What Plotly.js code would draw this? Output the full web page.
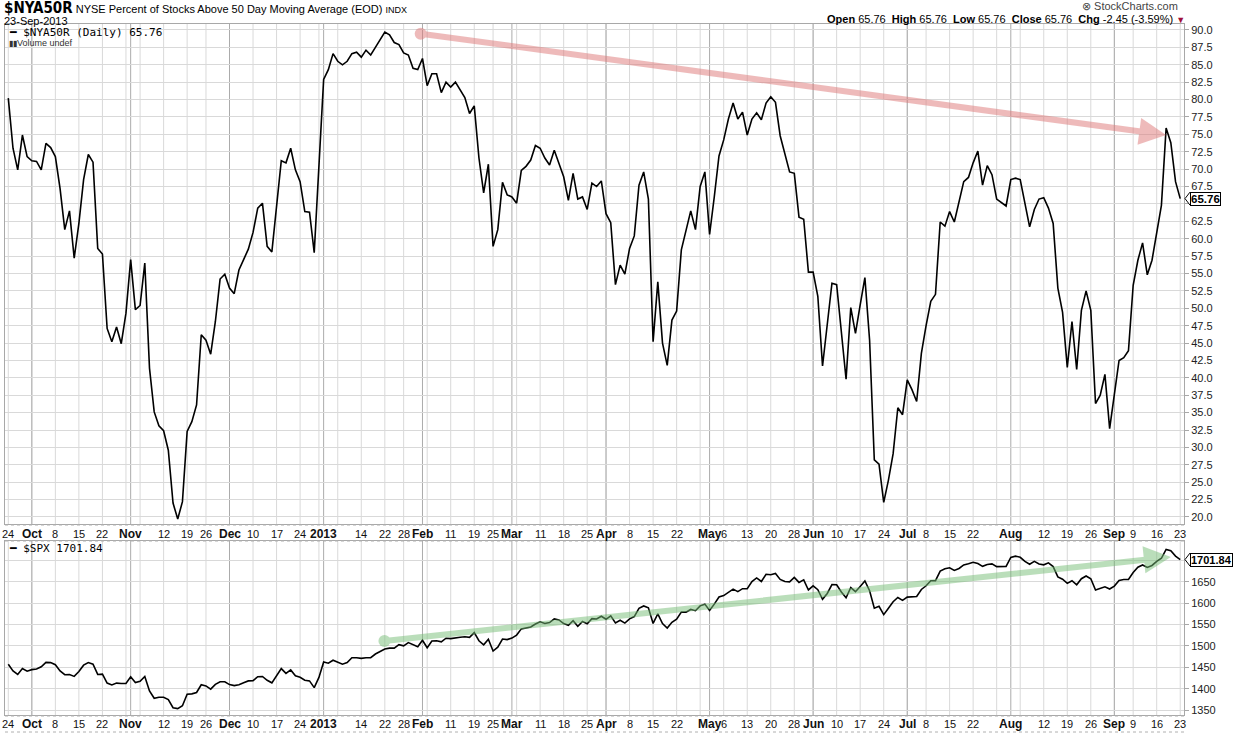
<!DOCTYPE html>
<html>
<head>
<meta charset="utf-8">
<script src="https://cdn.plot.ly/plotly-3.0.1.min.js"></script>
<style>
html,body{margin:0;padding:0;background:#fff;}
#chart{width:1233px;height:733px;}
</style>
</head>
<body>
<div id="chart"></div>
<script>
// ---------------- DATA ----------------
const startDate = '2012-09-24';
const endDate = '2013-09-23';
const holidays = ['2012-10-29','2012-10-30','2012-11-22','2012-12-25','2013-01-01','2013-01-21',
  '2013-02-18','2013-03-29','2013-05-27','2013-07-04','2013-09-02'];

const nya50r = [
 80.2,73.0,69.9,74.9,71.8, 71.2,71.1,69.9,73.7,73.1, 71.8,67.2,61.3,64.0,57.2, 62.2,68.5,72.1,71.0,58.6,
 57.8,47.1,45.2,47.3,44.9, 49.3,57.0,49.8,50.4,56.5, 41.4,35.1,33.1,32.4,29.6, 22.0,19.7,22.2,32.3,33.7,
 36.1,46.2,45.4,43.4,48.1, 54.2,54.9,52.9,52.1,55.5, 57.0,58.5,60.9,64.4,65.1, 58.9,58.1,64.6,71.2,70.9,
 73.0,69.9,68.2,63.9,63.8, 58.0,70.5,82.9,84.3,86.6, 85.5,85.0,85.5,86.6,86.8, 86.1,87.1,86.4,87.5,88.6,
 89.7,89.3,88.2,87.9,86.7, 86.4,84.5,84.3,85.9,82.0, 83.7,83.7,81.0,82.5,81.8, 82.5,81.3,80.3,78.0,79.1,
 71.6,66.6,70.7,58.9,61.3, 68.1,66.3,66.0,65.1,69.8, 70.4,71.3,73.4,73.0,71.6, 70.6,72.7,70.9,68.9,65.5,
 69.4,65.7,66.0,64.2,68.0, 67.5,68.3,63.6,62.3,53.4, 56.2,54.9,58.6,60.4,67.7, 69.6,65.7,45.2,53.8,45.0,
 41.8,48.3,49.6,58.4,61.3, 64.0,61.3,67.5,69.6,60.6, 66.0,71.9,74.2,77.2,79.5, 77.2,78.2,74.9,77.2,78.1,
 77.1,79.5,80.4,79.6,74.8, 72.0,69.6,69.4,63.1,62.8, 55.2,55.2,51.7,41.7,48.1, 53.6,53.4,46.9,39.8,50.1,
 46.4,50.5,54.4,45.4,28.2, 27.6,22.1,25.3,29.1,35.7, 34.7,39.7,38.3,36.6,43.5, 47.5,51.0,52.0,62.4,61.8,
 63.9,62.4,65.3,68.2,68.8, 70.9,72.6,67.7,70.5,69.2, 65.7,65.2,64.7,68.5,68.7, 68.5,65.2,61.7,64.2,65.7,
 65.9,64.4,62.2,52.9,49.4, 41.5,48.1,41.2,49.7,52.5, 49.7,36.3,37.5,40.5,32.7, 37.7,42.5,42.9,43.9,53.3,
 56.9,59.4,54.8,56.9,60.9, 64.8,75.9,73.8,68.2,65.76
];

const spx = [
 1456.9,1441.6,1433.3,1447.2,1440.7, 1444.5,1445.8,1451.0,1461.4,1460.9, 1455.9,1441.5,1432.6,1432.8,1428.6,
 1440.1,1454.9,1460.9,1457.3,1433.2, 1433.8,1413.1,1408.8,1413.0,1411.9, 1412.2,1427.6,1414.2,1417.3,1428.4,
 1394.5,1377.5,1379.9,1380.0,1374.5, 1355.5,1353.3,1359.9,1386.9,1387.8, 1391.0,1409.2,1406.3,1398.9,1409.9,
 1416.0,1416.2,1409.5,1407.1,1409.3, 1413.9,1418.1,1418.6,1427.8,1428.5, 1419.5,1413.6,1430.4,1446.8,1435.8,
 1443.7,1430.2,1426.7,1419.8,1418.1, 1402.4,1426.2,1462.4,1459.4,1466.5, 1461.9,1457.2,1461.0,1472.1,1472.1,
 1470.7,1472.3,1472.6,1480.9,1486.0, 1492.6,1494.8,1494.8,1503.0,1500.2, 1507.8,1502.0,1498.1,1513.2,1495.7,
 1511.3,1512.1,1509.4,1517.9,1517.0, 1519.4,1520.3,1521.4,1519.8,1530.9, 1512.0,1502.4,1515.6,1487.9,1496.9,
 1516.0,1514.7,1518.2,1525.2,1539.8, 1541.5,1544.3,1551.2,1556.2,1552.5, 1554.5,1563.2,1560.7,1552.1,1548.3,
 1558.7,1545.8,1556.9,1551.7,1563.8, 1562.9,1569.2,1562.2,1570.3,1553.7, 1560.0,1553.3,1563.1,1568.6,1587.7,
 1593.4,1588.9,1552.4,1574.6,1552.0, 1541.6,1555.3,1562.5,1578.8,1578.8, 1585.2,1582.2,1593.6,1597.6,1582.7,
 1597.6,1614.4,1617.5,1626.0,1632.7, 1626.7,1633.7,1633.8,1650.3,1658.8, 1650.5,1667.5,1666.3,1669.2,1655.4,
 1650.5,1649.6,1660.1,1648.4,1654.4, 1630.7,1640.4,1631.4,1608.9,1622.6, 1643.4,1642.8,1626.1,1612.5,1636.4,
 1626.7,1639.0,1651.8,1628.9,1588.2, 1592.4,1573.1,1588.0,1603.3,1613.2, 1606.3,1614.1,1614.1,1615.4,1631.9,
 1640.5,1652.3,1652.6,1675.0,1680.2, 1682.5,1676.3,1680.9,1689.4,1692.1, 1695.5,1692.4,1685.9,1690.3,1691.7,
 1685.3,1686.0,1685.7,1706.9,1709.7, 1707.1,1697.4,1690.9,1697.5,1691.4, 1689.5,1694.2,1685.4,1661.3,1655.8,
 1646.1,1652.4,1642.8,1657.0,1663.5, 1656.8,1630.5,1635.0,1638.2,1633.0, 1639.8,1653.1,1655.1,1655.2,1671.7,
 1684.0,1689.1,1683.4,1688.0,1697.6, 1704.8,1725.5,1722.3,1710.0,1701.84
];

// date axis tick labels
const tickDates = ['2012-09-24','2012-10-01','2012-10-08','2012-10-15','2012-10-22','2012-11-01','2012-11-12','2012-11-19','2012-11-26',
 '2012-12-03','2012-12-10','2012-12-17','2012-12-24','2013-01-02','2013-01-14','2013-01-22','2013-01-28','2013-02-01','2013-02-11',
 '2013-02-19','2013-02-25','2013-03-01','2013-03-11','2013-03-18','2013-03-25','2013-04-01','2013-04-08','2013-04-15','2013-04-22',
 '2013-05-01','2013-05-06','2013-05-13','2013-05-20','2013-05-28','2013-06-03','2013-06-10','2013-06-17','2013-06-24','2013-07-01',
 '2013-07-08','2013-07-15','2013-07-22','2013-08-01','2013-08-12','2013-08-19','2013-08-26','2013-09-03','2013-09-09','2013-09-16','2013-09-23'];
const tickText = ['24','Oct','8','15','22','Nov','12','19','26','Dec','10','17','24','2013','14','22','28','Feb','11',
 '19','25','Mar','11','18','25','Apr','8','15','22','May','6','13','20','28','Jun','10','17','24','Jul',
 '8','15','22','Aug','12','19','26','Sep','9','16','23'];

// value-axis tick labels
const nyaTicks = [20,22.5,25,27.5,30,32.5,35,37.5,40,42.5,45,47.5,50,52.5,55,57.5,60,62.5,65,67.5,70,72.5,75,77.5,80,82.5,85,87.5,90];
const spxTicks = [1350,1400,1450,1500,1550,1600,1650,1700];

const nyaLast = 65.76, spxLast = 1701.84;

// ---------------- BUILD ----------------
function iso(d){return d.toISOString().slice(0,10);}
const dates = [];
for (let d = new Date(startDate+'T00:00:00Z'); iso(d) <= endDate; d.setUTCDate(d.getUTCDate()+1)) {
  const wd = d.getUTCDay();
  if (wd === 0 || wd === 6) continue;
  if (holidays.includes(iso(d))) continue;
  dates.push(iso(d));
}
const idx = dates.map((_, i) => i);
const idxOf = s => dates.indexOf(s);

// weekly grid (first trading day of each week) and month starts
const weekIdx = [], monthIdx = [];
dates.forEach((s, i) => {
  const d = new Date(s+'T00:00:00Z');
  if (i === 0) { weekIdx.push(i); return; }
  const p = new Date(dates[i-1]+'T00:00:00Z');
  if (d.getUTCDay() <= p.getUTCDay() || (d - p)/86400000 >= 7) weekIdx.push(i);
  if (d.getUTCMonth() !== p.getUTCMonth()) monthIdx.push(i);
});

const isMonth = t => /^[A-Za-z]+$/.test(t) || t === '2013';

// pixel helpers for text placement
const L = 5, R = 49, T = 24, B = 18, W = 1233, H = 733;
const pw = W - L - R, ph = H - T - B;
const px = x => (x - L) / pw;
const py = y => (H - B - y) / ph;

const xRange = [-0.7, 249.8];
const y1Range = [18.99, 90.86], y2Range = [1338.4, 1745.2];
const gridCol = '#d9d9d9';
const FONT = 'Liberation Sans, Arial, sans-serif';

// tick labels hidden under last-value boxes (as in the original)
const covered = (v, last, step) => Math.abs(v - last) < step * 0.45;
const nyaTT = nyaTicks.map(v => covered(v, nyaLast, 2.5) ? '' : v.toFixed(1));
const spxTT = spxTicks.map(v => covered(v, spxLast, 50) ? '' : String(v));

const shapes = [];
weekIdx.forEach(i => {
  shapes.push({type:'line', xref:'x', yref:'y domain', x0:i, x1:i, y0:0, y1:1, line:{color:gridCol, width:1}, layer:'below'});
  shapes.push({type:'line', xref:'x2', yref:'y2 domain', x0:i, x1:i, y0:0, y1:1, line:{color:gridCol, width:1}, layer:'below'});
});
monthIdx.forEach(i => {
  shapes.push({type:'line', xref:'x', yref:'y domain', x0:i, x1:i, y0:0, y1:1, line:{color:'#ababab', width:1}, layer:'below'});
  shapes.push({type:'line', xref:'x2', yref:'y2 domain', x0:i, x1:i, y0:0, y1:1, line:{color:'#ababab', width:1}, layer:'below'});
});
[525, 541, 716, 732].forEach(yy => {
  shapes.push({type:'line', xref:'paper', yref:'paper', x0:0, x1:1, y0:py(yy), y1:py(yy), line:{color:'#b0b0b0', width:1, dash:'dot'}});
});
// pointer triangles on the last-value boxes
function pointer(yref, last, range, hpx) {
  const unitsPerPx = (range[1] - range[0]) / hpx;
  const d = 6.5 * unitsPerPx;
  const xa = px(1185), xb = px(1190);
  shapes.push({type:'path', xref:'paper', yref:yref,
    path:`M ${xb} ${last + d} L ${xa} ${last} L ${xb} ${last - d}`,
    line:{color:'#000', width:1}, fillcolor:'#fff', layer:'above'});
}
pointer('y', nyaLast, y1Range, 500);
pointer('y2', spxLast, y2Range, 174);

const traces = [
  {x: idx, y: nya50r, type:'scatter', mode:'lines', line:{color:'#000', width:1.6}, xaxis:'x', yaxis:'y', hoverinfo:'skip'},
  {x: idx, y: spx, type:'scatter', mode:'lines', line:{color:'#000', width:1.6}, xaxis:'x2', yaxis:'y2', hoverinfo:'skip'}
];

const annotations = [
  {xref:'paper', yref:'paper', x:px(2), y:py(8), xanchor:'left', yanchor:'middle', showarrow:false,
   text:'<b><span style="font-family:\'DejaVu Sans Condensed\',\'Liberation Sans Narrow\',\'Liberation Sans\';font-size:15px">$NYA50R</span></b> NYSE Percent of Stocks Above 50 Day Moving Average (EOD) <span style="font-size:9px">INDX</span>',
   font:{family:FONT, size:11, color:'#000'}},
  {xref:'paper', yref:'paper', x:px(2), y:py(20.5), xanchor:'left', yanchor:'middle', showarrow:false,
   text:'23-Sep-2013', font:{family:FONT, size:11, color:'#000'}},
  {xref:'paper', yref:'paper', x:px(1180), y:py(6), xanchor:'right', yanchor:'middle', showarrow:false,
   text:'⊗ StockCharts.com', font:{family:FONT, size:11, color:'#444'}},
  {xref:'paper', yref:'paper', x:px(1187), y:py(19), xanchor:'right', yanchor:'middle', showarrow:false,
   text:'<b>Open</b> 65.76  <b>High</b> 65.76  <b>Low</b> 65.76  <b>Close</b> 65.76  <b>Chg</b> -2.45 (-3.59%) <span style="color:#a0103a;font-size:9px">▼</span>',
   font:{family:FONT, size:11, color:'#000'}},
  {xref:'paper', yref:'paper', x:px(7), y:py(33), xanchor:'left', yanchor:'middle', showarrow:false,
   text:'<b>━</b> $NYA50R (Daily) 65.76', font:{family:'DejaVu Sans Mono, monospace', size:11, color:'#000'}},
  {xref:'paper', yref:'paper', x:px(7), y:py(43.5), xanchor:'left', yanchor:'middle', showarrow:false,
   text:'<span style="font-size:8px">▮▮</span>Volume undef', font:{family:FONT, size:9, color:'#333'}},
  {xref:'paper', yref:'paper', x:px(7), y:py(548), xanchor:'left', yanchor:'middle', showarrow:false,
   text:'<b>━</b> $SPX 1701.84', font:{family:'DejaVu Sans Mono, monospace', size:11, color:'#000'}},
  // last value boxes
  {xref:'paper', yref:'y', x:px(1190), y:nyaLast, xanchor:'left', yanchor:'middle', showarrow:false,
   text:'<b>'+nyaLast.toFixed(2)+'</b>', bgcolor:'#fff', bordercolor:'#000', borderwidth:1, borderpad:0,
   font:{family:FONT, size:11.5, color:'#000'}},
  {xref:'paper', yref:'y2', x:px(1190), y:spxLast, xanchor:'left', yanchor:'middle', showarrow:false,
   text:'<b>'+spxLast.toFixed(2)+'</b>', bgcolor:'#fff', bordercolor:'#000', borderwidth:1, borderpad:0,
   font:{family:FONT, size:11, color:'#000'}},
  // trend arrows
  {xref:'x', yref:'y', axref:'x', ayref:'y', x:246, y:74.9, ax:87.3, ay:89.5, text:'', showarrow:true,
   arrowhead:2, arrowsize:0.9, arrowwidth:6, arrowcolor:'rgba(222,120,120,0.5)', arrowside:'end+start',
   startarrowhead:6, startarrowsize:0.5, standoff:0, startstandoff:0},
  {xref:'x2', yref:'y2', axref:'x2', ayref:'y2', x:247, y:1708, ax:79.6, ay:1511, text:'', showarrow:true,
   arrowhead:2, arrowsize:0.9, arrowwidth:6, arrowcolor:'rgba(120,190,120,0.5)', arrowside:'end+start',
   startarrowhead:6, startarrowsize:0.5, standoff:0, startstandoff:0}
];

// date labels for both strips
tickDates.forEach((s, k) => {
  const t = tickText[k];
  const m = isMonth(t);
  [['x', 534], ['x2', 724]].forEach(([xr, yy]) => {
    annotations.push({xref:xr, yref:'paper', x:idxOf(s), y:py(yy), xanchor:'center', yanchor:'middle', showarrow:false,
      text: m ? '<b>'+t+'</b>' : t,
      font:{family: FONT, size: m ? 12 : 11, color:'#111'}});
  });
});

const xCommon = {
  range: xRange, showticklabels:false, ticks:'', showgrid:false,
  showline:true, mirror:true, linecolor:'#a8a8a8', linewidth:1, zeroline:false, fixedrange:true
};

const yTickFont = {family: FONT, size:11, color:'#222'};
const layout = {
  width: W, height: H, margin:{l:L, r:R, t:T, b:B, pad:0},
  paper_bgcolor:'#fff', plot_bgcolor:'#fff', showlegend:false,
  font:{family:FONT, size:11, color:'#111'},
  xaxis: Object.assign({}, xCommon, {anchor:'y'}),
  xaxis2: Object.assign({}, xCommon, {anchor:'y2'}),
  yaxis: {domain:[py(524), 1], range:y1Range, side:'right', tickmode:'array', tickvals:nyaTicks, ticktext:nyaTT,
    ticks:'outside', ticklen:4, tickcolor:'#a8a8a8', showgrid:true, gridcolor:gridCol, zeroline:false,
    showline:true, mirror:true, linecolor:'#a8a8a8', tickfont:yTickFont, fixedrange:true},
  yaxis2: {domain:[0, py(541)], range:y2Range, side:'right', tickmode:'array', tickvals:spxTicks, ticktext:spxTT,
    ticks:'outside', ticklen:4, tickcolor:'#a8a8a8', showgrid:true, gridcolor:gridCol, zeroline:false,
    showline:true, mirror:true, linecolor:'#a8a8a8', tickfont:yTickFont, fixedrange:true},
  shapes: shapes,
  annotations: annotations
};

Plotly.newPlot('chart', traces, layout, {displayModeBar:false, staticPlot:true});
</script>
</body>
</html>
